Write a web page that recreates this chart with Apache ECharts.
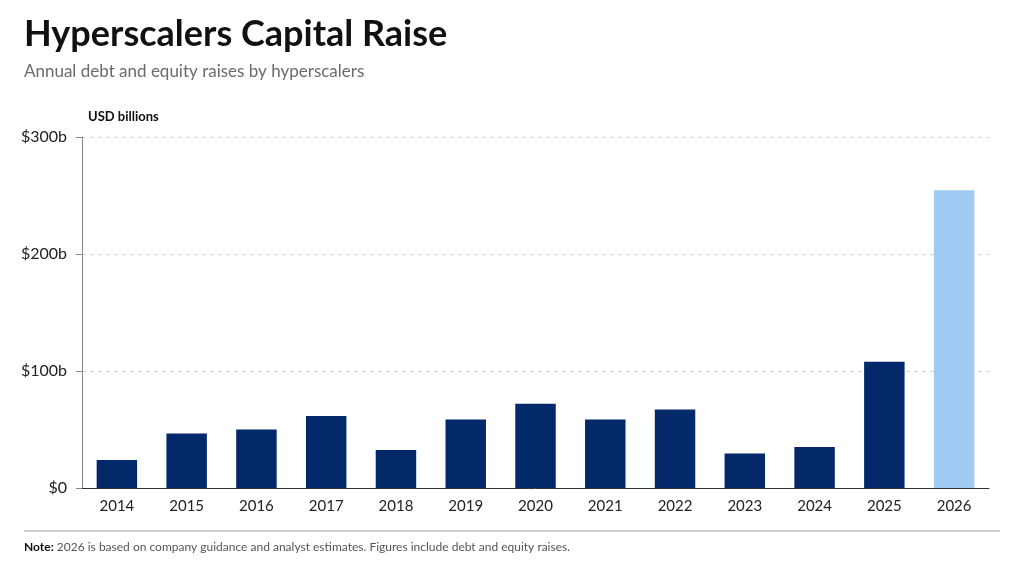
<!DOCTYPE html>
<html>
<head>
<meta charset="utf-8">
<script src="https://cdn.jsdelivr.net/npm/echarts@6/dist/echarts.min.js"></script>
<style>
  html, body { margin: 0; padding: 0; background: #fff; }
  #chart { width: 1024px; height: 576px; }
</style>
</head>
<body>
<div id="chart"></div>
<script>
const years = ['2014', '2015', '2016', '2017', '2018', '2019', '2020', '2021', '2022', '2023', '2024', '2025', '2026'];
const raises = [24, 46.5, 50, 61.5, 32.5, 58.5, 72, 58.5, 67, 29.5, 35, 108, 254.5];
const estimateYears = ['2026'];
const yTicks = [0, 100, 200, 300];

const NAVY = '#03296a';
const LIGHT = '#9ecaf4';
const FONT = 'Lato, "Noto Sans", sans-serif';

const chart = echarts.init(document.getElementById('chart'));
chart.setOption({
  animation: false,
  backgroundColor: '#fff',
  textStyle: { fontFamily: FONT },
  title: {
    text: 'Hyperscalers Capital Raise',
    subtext: 'Annual debt and equity raises by hyperscalers',
    left: 19,
    top: 11,
    itemGap: 11,
    textStyle: { fontFamily: FONT, fontSize: 36, fontWeight: 'bold', color: '#111' },
    subtextStyle: { fontFamily: FONT, fontSize: 17, color: '#6b6b6b' }
  },
  grid: { left: 82, right: 35, top: 137, bottom: 88 },
  xAxis: {
    type: 'category',
    data: years,
    axisLine: { lineStyle: { color: '#333', width: 1 } },
    axisTick: { alignWithLabel: true, length: 5, lineStyle: { color: '#555' } },
    axisLabel: { color: '#222', fontSize: 15, margin: 11, fontFamily: FONT }
  },
  yAxis: {
    type: 'value',
    min: yTicks[0],
    max: yTicks[yTicks.length - 1],
    interval: 100,
    name: 'USD billions',
    nameLocation: 'end',
    nameGap: 14,
    nameTextStyle: { align: 'left', padding: [0, 0, 0, 6], fontSize: 13, fontWeight: 'bold', color: '#111', fontFamily: FONT },
    axisLine: { show: true, lineStyle: { color: '#888' } },
    axisTick: { show: true, length: 6, lineStyle: { color: '#888' } },
    axisLabel: {
      color: '#222', fontSize: 16, margin: 15, fontFamily: FONT,
      formatter: v => v === 0 ? '$0' : '$' + v + 'b'
    },
    splitLine: { lineStyle: { color: '#d4d4d4', type: [4, 4] } }
  },
  series: [{
    type: 'bar',
    barWidth: '58%',
    data: raises.map((v, i) => ({
      value: v,
      itemStyle: { color: estimateYears.includes(years[i]) ? LIGHT : NAVY }
    }))
  }],
  graphic: [
    {
      type: 'line',
      shape: { x1: 24, y1: 531, x2: 1000, y2: 531 },
      style: { stroke: '#9a9a9a', lineWidth: 1 }
    },
    {
      type: 'text',
      left: 24,
      top: 541,
      style: {
        text: '{b|Note:} 2026 is based on company guidance and analyst estimates. Figures include debt and equity raises.',
        font: '12px ' + FONT,
        fill: '#555',
        rich: {
          b: { fontWeight: 'bold', fill: '#111', fontSize: 12, fontFamily: FONT }
        }
      }
    }
  ]
});
</script>
</body>
</html>
